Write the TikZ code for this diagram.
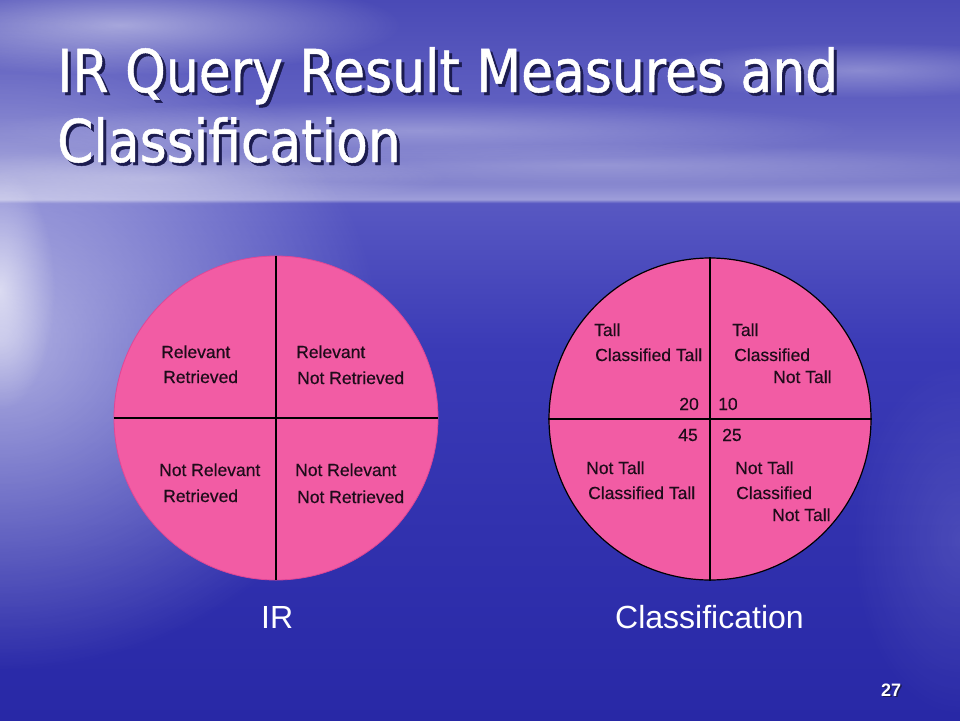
\documentclass[tikz,border=0pt]{standalone}
\usepackage{fontspec}
\setmainfont{Liberation Sans}
\newfontfamily\titlefont[FakeStretch=0.88,FakeBold=0.8]{DejaVu Sans}
\newfontfamily\cellfont[FakeBold=0.4]{Liberation Sans}
\usetikzlibrary{fadings}
\definecolor{seaB}{RGB}{40,40,166}
\definecolor{seaM}{RGB}{58,58,182}
\definecolor{seaT}{RGB}{88,88,194}
\definecolor{horz}{RGB}{158,158,218}
\definecolor{skyL}{RGB}{128,128,204}
\definecolor{skyM}{RGB}{98,98,194}
\definecolor{skyTop}{RGB}{74,74,182}
\definecolor{pinkc}{RGB}{242,92,164}
\definecolor{pinkedge}{RGB}{224,70,150}
\definecolor{celltext}{RGB}{30,12,26}
\definecolor{shadowc}{RGB}{28,28,80}
\pgfdeclareverticalshading{bgsky}{100bp}{color(0bp)=(seaB); color(25bp)=(seaB); color(50.7bp)=(seaM); color(60.9bp)=(seaT); color(61.15bp)=(horz); color(62.4bp)=(skyL); color(67bp)=(skyM); color(75bp)=(skyTop); color(100bp)=(skyTop)}
\tikzfading[name=fuzzy, inner color=transparent!0, outer color=transparent!100]
\newcommand\shtext[2]{\makebox[0pt][l]{\hspace*{#2}\raisebox{-#2}{\color{shadowc}#1}}#1}
\tikzset{
  cloud/.style={fill=white, path fading=fuzzy},
  pie/.style={circle, fill=pinkc, minimum size=324pt, inner sep=0pt},
  cell/.style={font=\cellfont\fontsize{17.5}{20}\selectfont, text=celltext, inner sep=0pt, anchor=base west},
  cellr/.style={cell, anchor=base east},
  divider/.style={draw=black, line width=1.3pt},
  titletext/.style={font=\titlefont\fontsize{59}{70}\selectfont, text=white, inner sep=0pt, anchor=base west},
  caption/.style={font=\fontsize{32}{36}\selectfont, text=white, inner sep=0pt, anchor=base west},
  pagenum/.style={font=\bfseries\fontsize{18}{20}\selectfont, text=white, inner sep=0pt, anchor=base west}
}
\begin{document}
\begin{tikzpicture}[x=1pt,y=-1pt]
\useasboundingbox (0,0) rectangle (960,720);
% background
\shade[shading=bgsky] (0,0) rectangle (960,720);
\fill[cloud, opacity=0.50] (120,25) ellipse [x radius=280, y radius=50];
\fill[cloud, opacity=0.30] (420,130) ellipse [x radius=440, y radius=30];
\fill[cloud, opacity=0.30] (860,70) ellipse [x radius=220, y radius=28];
\fill[cloud, opacity=0.22] (600,165) ellipse [x radius=420, y radius=22];
\fill[cloud, opacity=0.30] (150,178) ellipse [x radius=300, y radius=28];
\fill[cloud, opacity=0.60] (0,340) ellipse [x radius=380, y radius=330];
\fill[cloud, opacity=0.60] (0,290) ellipse [x radius=55, y radius=120];
\fill[cloud, opacity=0.12] (960,540) ellipse [x radius=110, y radius=180];
% title
\node[titletext] (t1) at (57,92) {\shtext{IR Query Result Measures and}{3pt}};
\node[titletext] (t2) at (57,162) {\shtext{Classification}{3pt}};
% IR circle
\node[pie, draw=pinkedge, line width=0.8pt] (ir) at (276,418) {};
\draw[divider] (ir.north) -- (ir.south);
\draw[divider] (ir.west) -- (ir.east);
\node[cell] (a1) at (161,358) {Relevant};
\node[cell] (a2) at (163,383) {Retrieved};
\node[cell] (b1) at (296,358) {Relevant};
\node[cell] (b2) at (297,384) {Not Retrieved};
\node[cell] (c1) at (159,476) {Not Relevant};
\node[cell] (c2) at (163,502) {Retrieved};
\node[cell] (d1) at (295,476) {Not Relevant};
\node[cell] (d2) at (297,503) {Not Retrieved};
% Classification circle
\node[pie, draw=black, line width=1.2pt, minimum size=322pt] (cl) at (710,419) {};
\draw[divider] (cl.north) -- (cl.south);
\draw[divider] (cl.west) -- (cl.east);
\node[cell] (e1) at (594,336) {Tall};
\node[cell] (e2) at (595,361) {Classified Tall};
\node[cellr] (e3) at (699,410) {20};
\node[cell] (f1) at (732,336) {Tall};
\node[cell] (f2) at (734,361) {Classified};
\node[cell] (f3) at (773,383) {Not Tall};
\node[cell] (f4) at (718,410) {10};
\node[cellr] (g3) at (698,441) {45};
\node[cell] (g1) at (586,474) {Not Tall};
\node[cell] (g2) at (588,499) {Classified Tall};
\node[cell] (h3) at (722,441) {25};
\node[cell] (h1) at (735,474) {Not Tall};
\node[cell] (h2) at (736,499) {Classified};
\node[cell] (h4) at (772,521) {Not Tall};
% captions
\node[caption] (capir) at (261,628) {IR};
\node[caption] (capcl) at (615,628) {Classification};
\node[pagenum] (pn) at (881,696) {\shtext{27}{1.5pt}};
\end{tikzpicture}
\end{document}
